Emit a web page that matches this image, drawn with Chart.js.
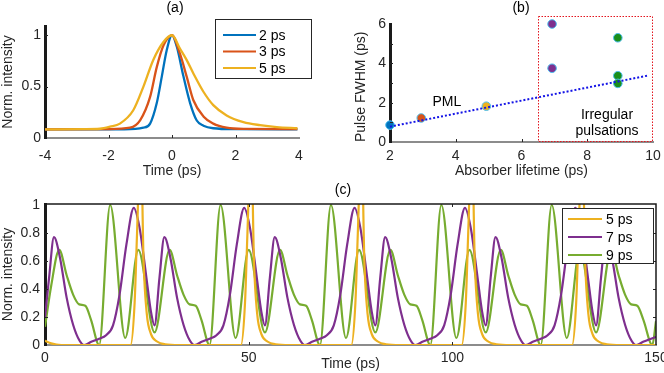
<!DOCTYPE html>
<html>
<head>
<meta charset="utf-8">
<script src="https://cdn.jsdelivr.net/npm/chart.js@4.4.1/dist/chart.umd.min.js"></script>
<style>
  html, body { margin: 0; padding: 0; background: #fff; }
  #page { position: relative; width: 664px; height: 373px; overflow: hidden; background: #fff; }
  canvas { position: absolute; }
</style>
</head>
<body>
<div id="page">
  <canvas id="chartA" width="330" height="180" style="left:0;top:0;width:330px;height:180px"></canvas>
  <canvas id="chartB" width="334" height="180" style="left:330px;top:0;width:334px;height:180px"></canvas>
  <canvas id="chartC" width="664" height="193" style="left:0;top:180px;width:664px;height:193px"></canvas>
</div>
<script>
// ---- (a) pulse shapes ----
const aTime2 = [-4, -1.5, -0.9, -0.69, -0.48, -0.32, -0.17, 0, 0.15, 0.36, 0.57, 0.78, 0.99, 1.3, 2, 3.95];
const aInt2 = [0.084, 0.084, 0.10, 0.14, 0.34, 0.60, 0.85, 1, 0.89, 0.60, 0.34, 0.17, 0.12, 0.095, 0.086, 0.084];
const aTime3 = [-4, -2, -1.32, -1.0, -0.69, -0.48, -0.27, 0, 0.25, 0.46, 0.67, 0.99, 1.3, 1.72, 2.25, 3.95];
const aInt3 = [0.084, 0.086, 0.10, 0.175, 0.40, 0.69, 0.90, 1, 0.82, 0.60, 0.37, 0.21, 0.14, 0.10, 0.088, 0.086];
const aTime5 = [-4, -2.8, -2.27, -1.95, -1.64, -1.22, -0.9, -0.59, -0.27, 0, 0.25, 0.46, 0.67, 0.99, 1.3, 1.72, 2.25, 2.77, 3.3, 3.95];
const aInt5 = [0.084, 0.086, 0.09, 0.11, 0.14, 0.27, 0.50, 0.76, 0.935, 1, 0.87, 0.76, 0.63, 0.45, 0.32, 0.22, 0.155, 0.125, 0.106, 0.095];
const aXTicks = [-4, -2, 0, 2, 4];
const aYTicks = [0, 0.5, 1];

// ---- (b) FWHM vs absorber lifetime ----
const bLifetime = [2.0, 2.95, 4.93, 6.93, 6.93, 8.93, 8.93, 8.93];
const bFwhm = [0.86, 1.22, 1.82, 6.0, 3.75, 5.3, 3.37, 2.98];
const bFitX = [2.0, 9.82];
const bFitY = [0.78, 3.37];
const bRegionX = [6.5, 10];
const bRegionY = [0, 6.4];
const bXTicks = [2, 4, 6, 8, 10];
const bYTicks = [0, 2, 4, 6];

// ---- (c) time traces ----
const cTime5 = [0, 1.5, 4, 21.0, 22.0, 22.6, 23.5, 24.2, 25.0, 26.0, 27.5, 29.5, 33,
  48.1, 49.1, 49.7, 50.6, 51.3, 52.1, 53.1, 54.6, 56.6, 60.1,
  75.2, 76.2, 76.8, 77.7, 78.4, 79.2, 80.2, 81.7, 83.7, 87.2,
  102.3, 103.3, 103.9, 104.8, 105.5, 106.3, 107.3, 108.8, 110.8, 114.3,
  129.4, 130.4, 131.0, 131.9, 132.6, 133.4, 134.4, 135.9, 137.9, 141.4, 150];
const cInt5 = [0.03, 0.012, 0, 0, 0.3, 0.8, 1.5, 0.6, 0.22, 0.08, 0.025, 0.005, 0,
  0, 0.3, 0.8, 1.5, 0.6, 0.22, 0.08, 0.025, 0.005, 0,
  0, 0.3, 0.8, 1.5, 0.6, 0.22, 0.08, 0.025, 0.005, 0,
  0, 0.3, 0.8, 1.5, 0.6, 0.22, 0.08, 0.025, 0.005, 0,
  0, 0.3, 0.8, 1.5, 0.6, 0.22, 0.08, 0.025, 0.005, 0, 0];

const cTime7 = [0, 1.0, 2.2, 3.7, 5.3, 6.9, 8.5, 9.6, 11.5, 13.3, 15.0, 16.7, 18.3, 20.0, 21.8, 23.2, 24.9, 26.0, 26.9,
  28.1, 29.3, 30.8, 32.4, 34.0, 35.6, 36.7, 38.6, 40.4, 42.1, 43.8, 45.4, 47.1, 48.9, 50.3, 52.0, 53.1, 54.0,
  55.2, 56.4, 57.9, 59.5, 61.1, 62.7, 63.8, 65.7, 67.5, 69.2, 70.9, 72.5, 74.2, 76.0, 77.4, 79.1, 80.2, 81.1,
  82.3, 83.5, 85.0, 86.6, 88.2, 89.8, 90.9, 92.8, 94.6, 96.3, 98.0, 99.6, 101.3, 103.1, 104.5, 106.2, 107.3, 108.2,
  109.4, 110.6, 112.1, 113.7, 115.3, 116.9, 118.0, 119.9, 121.7, 123.4, 125.1, 126.7, 128.4, 130.2, 131.6, 133.3, 134.4, 135.3,
  136.5, 137.7, 139.2, 140.8, 142.4, 144.0, 145.1, 147.0, 148.8, 150];
const cInt7 = [0.20, 0.48, 0.77, 0.62, 0.34, 0.145, 0.03, 0, 0.025, 0.045, 0.07, 0.14, 0.36, 0.72, 0.98, 0.84, 0.48, 0.24, 0.14,
  0.48, 0.77, 0.62, 0.34, 0.145, 0.03, 0, 0.025, 0.045, 0.07, 0.14, 0.36, 0.72, 0.98, 0.84, 0.48, 0.24, 0.14,
  0.48, 0.77, 0.62, 0.34, 0.145, 0.03, 0, 0.025, 0.045, 0.07, 0.14, 0.36, 0.72, 0.98, 0.84, 0.48, 0.24, 0.14,
  0.48, 0.77, 0.62, 0.34, 0.145, 0.03, 0, 0.025, 0.045, 0.07, 0.14, 0.36, 0.72, 0.98, 0.84, 0.48, 0.24, 0.14,
  0.48, 0.77, 0.62, 0.34, 0.145, 0.03, 0, 0.025, 0.045, 0.07, 0.14, 0.36, 0.72, 0.98, 0.84, 0.48, 0.24, 0.14,
  0.48, 0.77, 0.62, 0.34, 0.145, 0.03, 0, 0.025, 0.045, 0.058];

const cTime9 = [0, 1.5, 3.5, 5.3, 6.9, 8.4, 9.9, 11.3, 13.3, 16.0, 19.7, 22.9, 26.9,
  30.6, 32.4, 34.0, 35.5, 37.0, 38.4, 40.4, 43.1, 46.8, 50.0, 54.0,
  57.7, 59.5, 61.1, 62.6, 64.1, 65.5, 67.5, 70.2, 73.9, 77.1, 81.1,
  84.8, 86.6, 88.2, 89.7, 91.2, 92.6, 94.6, 97.3, 101.0, 104.2, 108.2,
  111.9, 113.7, 115.3, 116.8, 118.3, 119.7, 121.7, 124.4, 128.1, 131.3, 135.3,
  139.0, 140.8, 142.4, 143.9, 145.4, 146.9, 149.1, 150];
const cInt9 = [0.13, 0.42, 0.68, 0.50, 0.36, 0.29, 0.28, 0.18, 0, 1, 0.05, 0.68, 0.09,
  0.68, 0.50, 0.36, 0.29, 0.28, 0.18, 0, 1, 0.05, 0.68, 0.09,
  0.68, 0.50, 0.36, 0.29, 0.28, 0.18, 0, 1, 0.05, 0.68, 0.09,
  0.68, 0.50, 0.36, 0.29, 0.28, 0.18, 0, 1, 0.05, 0.68, 0.09,
  0.68, 0.50, 0.36, 0.29, 0.28, 0.18, 0, 1, 0.05, 0.68, 0.09,
  0.68, 0.50, 0.36, 0.29, 0.28, 0.18, 0, 0.17];
const cXTicks = [0, 50, 100, 150];
const cYTicks = [0, 0.2, 0.4, 0.6, 0.8, 1];

// colours
const BLUE = '#0072BD', ORANGE = '#D95319', YELLOW = '#EDB120',
      PURPLE = '#7E2F8E', GREEN = '#77AC30', EDGE = '#4DBEEE';
const bPointColors = [BLUE, ORANGE, YELLOW, PURPLE, PURPLE, '#1b8f1b', '#1b8f1b', '#1b8f1b'];

const FONT = '"Liberation Sans", Arial, Helvetica, sans-serif';
Chart.defaults.font.family = FONT;
Chart.defaults.font.size = 14;
Chart.defaults.color = '#262626';

const pairs = (xs, ys) => xs.map((x, i) => ({x: x, y: ys[i]}));

function axisX(min, max, ticks, title, labelPad, height) {
  return {
    type: 'linear', min: min, max: max,
    afterBuildTicks: s => { s.ticks = ticks.map(v => ({value: v})); },
    afterFit: s => { s.height = height; s.paddingLeft = 0; s.paddingRight = 0; },
    grid: {display: false, drawTicks: false},
    border: {color: '#8c8c8c', width: 2},
    ticks: {padding: labelPad, maxRotation: 0, autoSkip: false, callback: v => String(v)},
    title: {display: true, text: title, padding: 0}
  };
}

function axisY(min, max, ticks, title, labelPad, width, align) {
  return {
    type: 'linear', min: min, max: max,
    afterBuildTicks: s => { s.ticks = ticks.map(v => ({value: v})); },
    afterFit: s => { s.width = width; s.paddingTop = 0; s.paddingBottom = 0; },
    grid: {display: false, drawTicks: false},
    border: {color: '#1a1a1a', width: 3},
    ticks: {padding: labelPad, autoSkip: false, callback: v => String(v)},
    title: {display: true, text: title, padding: 0, align: align || 'center'}
  };
}

// small inward tick marks and the optional box
const frameMarks = {
  id: 'frameMarks',
  afterDatasetsDraw(chart, args, o) {
    const {ctx, chartArea: a} = chart;
    const x = chart.scales.x, y = chart.scales.y;
    const len = o.len || 4;
    ctx.save();
    ctx.strokeStyle = '#262626';
    ctx.lineWidth = 1;
    ctx.beginPath();
    (o.xMarks || []).forEach(v => {
      const px = Math.round(x.getPixelForValue(v)) + 0.5;
      ctx.moveTo(px, a.bottom); ctx.lineTo(px, a.bottom - len);
      if (o.box) { ctx.moveTo(px, a.top); ctx.lineTo(px, a.top + len); }
    });
    (o.yMarks || []).forEach(v => {
      const py = Math.round(y.getPixelForValue(v)) + 0.5;
      ctx.moveTo(a.left, py); ctx.lineTo(a.left + len, py);
      if (o.box) { ctx.moveTo(a.right, py); ctx.lineTo(a.right - len, py); }
    });
    ctx.stroke();
    if (o.box) {
      ctx.strokeStyle = '#1a1a1a';
      ctx.lineWidth = 1.5;
      ctx.beginPath();
      ctx.moveTo(a.left, a.top); ctx.lineTo(a.right, a.top); ctx.lineTo(a.right, a.bottom);
      ctx.stroke();
    }
    ctx.restore();
  }
};

// legend drawn in a box at a fixed place, like the original figure
const boxLegend = {
  id: 'boxLegend',
  afterDraw(chart, args, o) {
    if (!o.width) return;
    const ctx = chart.ctx;
    ctx.save();
    ctx.fillStyle = '#fff';
    ctx.fillRect(o.left, o.top, o.width, o.height);
    ctx.strokeStyle = '#262626';
    ctx.lineWidth = 1;
    ctx.strokeRect(o.left + 0.5, o.top + 0.5, o.width, o.height);
    const items = chart.data.datasets.filter(d => d.label);
    items.forEach((d, i) => {
      const y = o.top + o.firstRow + i * o.rowGap;
      ctx.strokeStyle = d.borderColor;
      ctx.lineWidth = 2;
      ctx.beginPath();
      ctx.moveTo(o.left + o.lineStart, y);
      ctx.lineTo(o.left + o.lineEnd, y);
      ctx.stroke();
      ctx.fillStyle = '#000';
      ctx.font = '14px ' + FONT;
      ctx.textBaseline = 'middle';
      ctx.textAlign = 'left';
      ctx.fillText(d.label, o.left + o.textX, y + 1);
    });
    ctx.restore();
  }
};

// free text: panel letters (canvas px) and annotations (data coords)
const notes = {
  id: 'notes',
  afterDraw(chart, args, o) {
    const ctx = chart.ctx;
    ctx.save();
    ctx.textAlign = 'center';
    ctx.textBaseline = 'middle';
    (o.items || []).forEach(n => {
      let px = n.x, py = n.y;
      if (n.data) {
        px = chart.scales.x.getPixelForValue(n.x);
        py = chart.scales.y.getPixelForValue(n.y);
      }
      ctx.fillStyle = n.color || '#000';
      ctx.font = '14px ' + FONT;
      ctx.fillText(n.text, px, py);
    });
    ctx.restore();
  }
};

// dotted region box for panel (b)
const regionBox = {
  id: 'regionBox',
  afterDatasetsDraw(chart, args, o) {
    if (!o.xs) return;
    const ctx = chart.ctx;
    const x0 = chart.scales.x.getPixelForValue(o.xs[0]);
    const x1 = chart.scales.x.getPixelForValue(o.xs[1]);
    const y0 = chart.scales.y.getPixelForValue(o.ys[0]);
    const y1 = chart.scales.y.getPixelForValue(o.ys[1]);
    ctx.save();
    ctx.strokeStyle = '#e3151e';
    ctx.lineWidth = 1;
    ctx.setLineDash([1.5, 1.5]);
    ctx.strokeRect(Math.round(x0) + 0.5, Math.round(y1) + 0.5, Math.round(x1 - x0) - 1, Math.round(y0 - y1) - 1);
    ctx.restore();
  }
};

const lineDs = (label, xs, ys, color, width, order) => ({
  label: label, data: pairs(xs, ys), borderColor: color, backgroundColor: color,
  borderWidth: width, pointRadius: 0, cubicInterpolationMode: 'monotone', fill: false, order: order
});

const common = {
  responsive: false, animation: false, devicePixelRatio: 1,
  events: []
};

// ---------- (a) ----------
new Chart(document.getElementById('chartA').getContext('2d'), {
  type: 'line',
  data: {
    datasets: [
      lineDs('2 ps', aTime2, aInt2, BLUE, 2.3, 3),
      lineDs('3 ps', aTime3, aInt3, ORANGE, 2.3, 2),
      lineDs('5 ps', aTime5, aInt5, YELLOW, 2.3, 1)
    ]
  },
  options: Object.assign({}, common, {
    layout: {padding: {left: 0, top: 26, right: 31, bottom: 0}},
    plugins: {
      legend: {display: false}, tooltip: {enabled: false},
      frameMarks: {xMarks: [-2, 0, 2], yMarks: [0.5, 1], len: 3},
      boxLegend: {left: 215, top: 19, width: 96, height: 59, firstRow: 16, rowGap: 16.5, lineStart: 8, lineEnd: 41, textX: 44},
      notes: {items: [{text: '(a)', x: 175, y: 8}]}
    },
    scales: {
      x: axisX(-4, 4, aXTicks, 'Time (ps)', 10, 42),
      y: axisY(0, 1.09, aYTicks, 'Norm. intensity', 4, 45)
    }
  }),
  plugins: [frameMarks, boxLegend, notes]
});

// ---------- (b) ----------
new Chart(document.getElementById('chartB').getContext('2d'), {
  type: 'line',
  data: {
    datasets: [
      {
        data: pairs(bFitX, bFitY), borderColor: '#1414e6', borderWidth: 2,
        borderDash: [2, 2], pointRadius: 0, fill: false, order: 1, clip: false
      },
      {
        data: pairs(bLifetime, bFwhm), showLine: false, pointRadius: 4.3,
        pointBackgroundColor: bPointColors, pointBorderColor: EDGE, pointBorderWidth: 1,
        order: 2, clip: false
      }
    ]
  },
  options: Object.assign({}, common, {
    layout: {padding: {left: 23, top: 24, right: 11, bottom: 0}},
    plugins: {
      legend: {display: false}, tooltip: {enabled: false},
      frameMarks: {xMarks: [4, 6, 8], yMarks: [1, 2, 3, 4, 5], len: 3},
      regionBox: {xs: bRegionX, ys: bRegionY},
      notes: {items: [
        {text: '(b)', x: 191, y: 8},
        {text: 'PML', x: 3.73, y: 2.03, data: true},
        {text: 'Irregular', x: 8.6, y: 1.35, data: true},
        {text: 'pulsations', x: 8.6, y: 0.56, data: true}
      ]}
    },
    scales: {
      x: axisX(2, 10, bXTicks, 'Absorber lifetime (ps)', 6, 38),
      y: axisY(0, 6, bYTicks, 'Pulse FWHM (ps)', 4, 37, 'start')
    }
  }),
  plugins: [frameMarks, regionBox, notes]
});

// ---------- (c) ----------
new Chart(document.getElementById('chartC').getContext('2d'), {
  type: 'line',
  data: {
    datasets: [
      lineDs('5 ps', cTime5, cInt5, YELLOW, 2.2, 1),
      lineDs('7 ps', cTime7, cInt7, PURPLE, 2.2, 2),
      lineDs('9 ps', cTime9, cInt9, GREEN, 2.2, 3)
    ]
  },
  options: Object.assign({}, common, {
    layout: {padding: {left: 0, top: 24, right: 8, bottom: 0}},
    plugins: {
      legend: {display: false}, tooltip: {enabled: false},
      frameMarks: {xMarks: [50, 100], yMarks: [0.2, 0.4, 0.6, 0.8], len: 3, box: true},
      boxLegend: {left: 562, top: 28, width: 91, height: 55, firstRow: 11, rowGap: 18, lineStart: 6, lineEnd: 40, textX: 44},
      notes: {items: [{text: '(c)', x: 343, y: 10}]}
    },
    scales: {
      x: axisX(0, 150, cXTicks, 'Time (ps)', 5, 28),
      y: axisY(0, 1.007, cYTicks, 'Norm. intensity', 5, 45)
    }
  }),
  plugins: [frameMarks, boxLegend, notes]
});
</script>
</body>
</html>
